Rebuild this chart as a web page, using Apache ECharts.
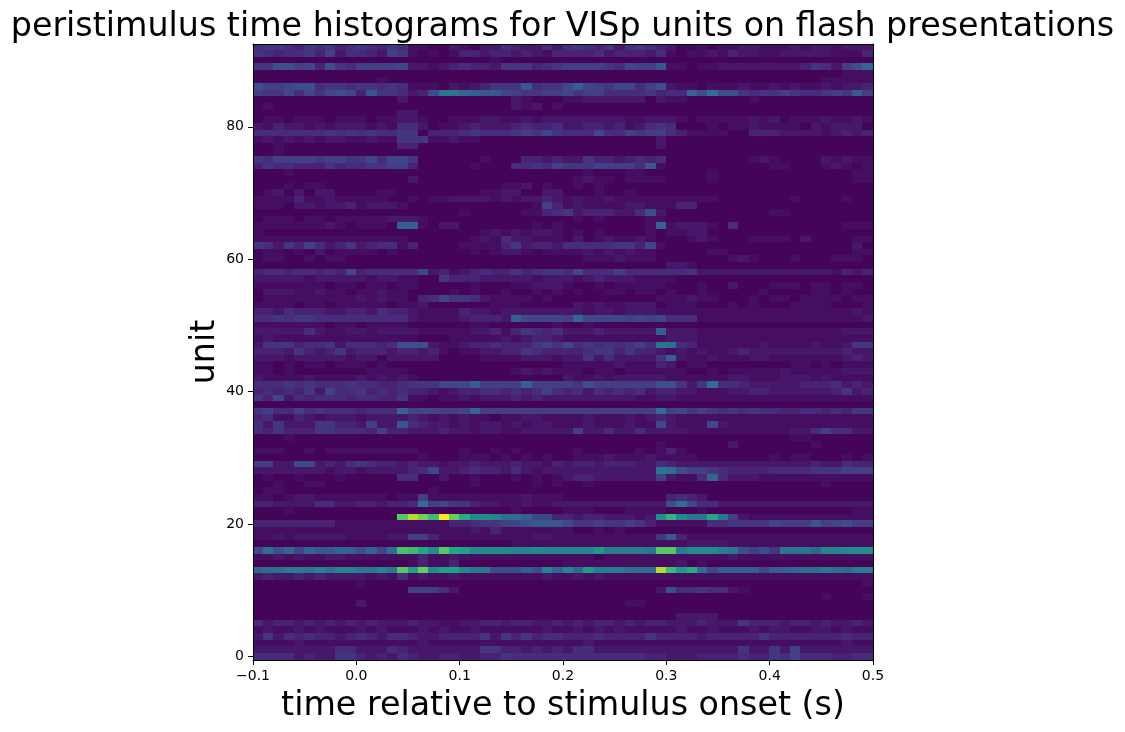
<!DOCTYPE html>
<html>
<head>
<meta charset="utf-8">
<script src="https://cdn.jsdelivr.net/npm/echarts@6/dist/echarts.min.js"></script>
<style>
html,body{margin:0;padding:0;background:#ffffff;}
#chart{width:1125px;height:732px;}
</style>
</head>
<body>
<div id="chart"></div>
<script>
// ---- DATA ----
// start of each 10 ms time bin (s)
const timeBinStarts = [
  -0.10,-0.09,-0.08,-0.07,-0.06,-0.05,-0.04,-0.03,-0.02,-0.01,
   0.00, 0.01, 0.02, 0.03, 0.04, 0.05, 0.06, 0.07, 0.08, 0.09,
   0.10, 0.11, 0.12, 0.13, 0.14, 0.15, 0.16, 0.17, 0.18, 0.19,
   0.20, 0.21, 0.22, 0.23, 0.24, 0.25, 0.26, 0.27, 0.28, 0.29,
   0.30, 0.31, 0.32, 0.33, 0.34, 0.35, 0.36, 0.37, 0.38, 0.39,
   0.40, 0.41, 0.42, 0.43, 0.44, 0.45, 0.46, 0.47, 0.48, 0.49
];
const binWidth = 0.01;

// normalised PSTH per unit, one character per bin (base-36 level, 'z' = max)
// listed from the top unit (92) down to unit 0
const unitRows = [
  "5665465645 6546522113 2133543353 5654635654 3112122332 2232332333", // 92
  "6545564735 5437621212 4434434324 4445344435 2122324332 2333332224", // 91
  "1111111111 1111111111 1112111111 1111111111 1111111111 1111111111", // 90
  "6699784965 7777833234 5443666456 777765877a 2212233333 333465379c", // 89
  "1111111111 1111111111 1111111111 1111111111 1111111111 1111111222", // 88
  "1111111111 1121111111 1111111111 1111111111 1111111111 1111122222", // 87
  "9778995665 6656522213 234666a566 8b87688579 3221222322 3232232334", // 86
  "7668586898 4a665349ee cbaa876677 8677555564 55c9d99656 67655676b7", // 85
  "1111111111 1111311111 1111132111 2233333313 2211111121 1111111111", // 84
  "1211111111 1111111111 1111132312 1111111111 1111111111 1111111111", // 83
  "1111111111 1111331111 1111111111 1111111111 1111111111 1111111111", // 82
  "1221222122 2122332112 2233223233 3333332233 3212222232 3122232232", // 81
  "3243323233 3232553122 3433345445 3344342356 5111212232 2221323331", // 80
  "5555555656 5655661444 5655567686 5558557677 5422221144 4333323434", // 79
  "2323232332 2322666223 2211111111 1111111113 1111111111 1111111111", // 78
  "1121111111 1111441111 1111111111 1111111113 1111111111 1111111111", // 77
  "1121111111 1111111111 1111111111 1111111111 1111111111 1111111111", // 76
  "6577776776 6858861111 1121114434 3364434545 1111111123 2111132322", // 75
  "4655444645 5667741111 1211155657 66677775a2 1111111111 2211123212", // 74
  "1112111111 1111111111 1111111111 1121112211 1111211111 1111111122", // 73
  "1111111111 1111131111 1111111111 1232212222 1111211111 1111111122", // 72
  "1112122111 1111111111 1111223121 1212111111 1111111111 1111111111", // 71
  "1231313311 1122111111 1122331133 1112112111 1111111111 1111111111", // 70
  "2222422322 2221121223 3332323343 2322322222 2222211111 1121111211", // 69
  "2221332334 2333211111 1111111274 2322223322 2441111111 1111111111", // 68
  "1111111111 1111111111 2111112245 6344433593 1111111111 2211111111", // 67
  "1222122122 2223332111 1111111111 1212111122 1111111111 1111111111", // 66
  "2222222321 2221bb2133 1111111212 111111112c 2333215111 1111111222", // 65
  "2111111111 1111111111 1123232332 1212111121 2233111111 1111111111", // 64
  "2222222222 2222211111 1232533222 1312322321 1123211122 2213111122", // 63
  "6536475346 3455241111 2222463443 5555566482 1111111111 1111111131", // 62
  "1221213122 2212111111 1212332122 2232323221 1111221111 1111111122", // 61
  "1221121221 1111111111 1111111111 1122232221 1111112321 1121112221", // 60
  "1111111111 1111111111 1111111111 1111111111 3321111111 1111111111", // 59
  "4554554548 4555558342 3454464566 5855575555 5563333333 3333332434", // 58
  "3333323333 3233221164 4433333233 3234333222 2111111111 1111111111", // 57
  "2222222122 1221221111 1211122333 2112122222 1112113111 2221221221", // 56
  "1333223221 2232211112 1211211212 1211221221 2112111112 1111221211", // 55
  "1222222222 3232214586 6532222121 1111111112 2232211121 2212222122", // 54
  "2222122122 2221223111 1112221111 1323223331 2221112121 1122221112", // 53
  "4435444334 4354432222 4332333333 3323323332 2222222222 2222222232", // 52
  "5565665555 5555532222 34443b8888 7c88887878 5552222222 2222222223", // 51
  "2222222122 1222211111 1221111112 1121111111 1111111111 1111111111", // 50
  "3333353223 3233332222 2334246545 333433333b 3332222222 2222222333", // 49
  "2322222222 2222221112 2222323443 2222222222 3332222222 2222222222", // 48
  "3666455635 5545999322 3445444676 856565675e d542222223 2222322366", // 47
  "4443643463 4443443421 2233446544 4456646443 2323223433 3333333433", // 46
  "3332333332 3313333311 1122223332 3363533336 b322322233 2222222343", // 45
  "2212122122 2121111111 1111111111 2222232224 3122111111 1122121222", // 44
  "2212111111 1222211111 1111123232 2212212222 2211212222 2322222333", // 43
  "3222232222 3232321111 1111111111 3223233333 2222223322 2333232222", // 42
  "5556565556 5544566688 8b7777b777 7697777779 9636d55433 3334445343", // 41
  "4545463755 6454544323 4455454575 4535454534 4332223344 3333334634", // 40
  "6483545554 5544622122 3233343433 3333333223 3222222222 2222222222", // 39
  "1111111111 1111111111 1111111111 1111111111 1111111111 1111111111", // 38
  "6755756555 4555c88877 8c77777777 777777777d 7867656565 5445545466", // 37
  "4522432333 2333343232 3221223322 2232223234 3222222222 2222222222", // 36
  "5363336644 3733a54332 3233232332 2232223228 3222832222 2222222222", // 35
  "5464446655 5474433343 3233223333 3733533533 3322222222 2233575533", // 34
  "1112111111 1111111111 1111111111 1111111111 1111111111 1122111111", // 33
  "1111111111 1111111111 1111111111 1111111112 1111113111 1111211111", // 32
  "2221121222 2222221111 2112121111 1211111212 4211111111 1111111111", // 31
  "1111111111 1111112111 2221212121 1222322232 2221111111 2122111212", // 30
  "7733883435 6544343323 3433343324 3443444335 4333333333 3333433544", // 29
  "3333333233 2333345833 4544353233 333333333e d977654444 5555666777", // 28
  "1211211121 1111551131 1211121212 3443333337 3225c53332 2222222222", // 27
  "1121122111 1111111111 1211111212 1121111111 1111111111 1111121111", // 26
  "1221111111 1111111211 1111111111 1111111111 1111111111 1111111111", // 25
  "2212332222 2221227222 2222223222 1111111111 4543111111 1111111111", // 24
  "4433335533 443445d786 6433223223 3333333333 9d85533333 3333333333", // 23
  "1112111111 1111111111 1111121111 2221112222 1112111111 1111111122", // 22
  "1111111111 1111qvsozr mhhgddb884 434433323h nheele7322 2222222222", // 21
  "4444444422 2222222224 4566789aaa 8667667642 2222556666 8777a78977", // 20
  "2222222222 2222222222 2324222222 2112121111 1111111111 1111111111", // 19
  "2232333332 2223377422 2222222332 2222222226 a422222222 2222222222", // 18
  "1111111111 1111111111 1111122222 2222222222 2233332222 2222222222", // 17
  "8d9c8caacb 9c8dpolhql khhhhgghgg gggjffffeq qfhhhfe979 6eeecgghhh", // 16
  "2232322332 2222224223 2222222222 2221222222 2222223222 2222222222", // 15
  "1111111111 1111124224 1111111111 2222222222 2312111111 1111111111", // 14
  "cddffegegg eegeqkrhkk gee999b9gc gcjfffdddv ojmd8bbbb8 bbcddfdcff", // 13
  "3433434333 3232523223 2222222232 2323222222 2222222222 2222222222", // 12
  "1111111111 2111111111 1111111111 1111111111 1111111111 1111111112", // 11
  "1111111111 1111177753 1111111111 1111111113 9556553211 1111111111", // 10
  "1111111111 1111111111 1111111111 1111111111 1111111111 1111121112", // 9
  "1111111111 3111111111 1111111111 1111112211 1111111111 1111111111", // 8
  "1111111111 1111111111 1111111111 1111111111 1111111111 1111111111", // 7
  "1111111111 1111111111 1111111111 1111111111 1333311111 1111111111", // 6
  "5344343434 3433343322 3344344334 3434434344 3334333644 4344343343", // 5
  "2322323222 3232223232 2322222232 2323232222 2322322232 3322332322", // 4
  "3635454434 5435543344 4463646455 4445444464 4443444446 4444444544", // 3
  "2222322222 2222223222 2222222222 2232222222 2222222222 2222222322", // 2
  "3333333355 3335433333 3366443434 3553333333 3333333633 6373333333", // 1
  "5555343366 4343543344 3344655555 5555555544 3334444544 6575554455"  // 0
];
// level scale: level '1' is the near-black floor, 'z' is the maximum
const levelFloor = 0.7;
const levelMax = 35;

const xTicks = [-0.1, 0.0, 0.1, 0.2, 0.3, 0.4, 0.5];
const yTicks = [0, 20, 40, 60, 80];

const titleText = 'peristimulus time histograms for VISp units on flash presentations';
const xLabel = 'time relative to stimulus onset (s)';
const yLabel = 'unit';

const viridis = ['#440154','#482475','#414487','#355f8d','#2a788e','#21918c',
                 '#22a884','#44bf70','#7ad151','#bddf26','#fde725'];

// ---- build cells ----
const cells = [];
unitRows.forEach(function (row, i) {
  const unit = unitRows.length - 1 - i;
  const s = row.replace(/\s+/g, '');
  for (let b = 0; b < timeBinStarts.length; b++) {
    const ch = s.charAt(b) || '0';
    const lv = parseInt(ch, 36);
    const v = Math.max(0, lv - levelFloor) / (levelMax - levelFloor);
    cells.push([timeBinStarts[b], timeBinStarts[b] + binWidth, unit, v]);
  }
});

const FONT = 'DejaVu Sans';
function fmtX(v) {
  if (Math.abs(v) < 1e-9) return '0.0';
  return v.toFixed(1).replace('-', '\u2212');
}

const chart = echarts.init(document.getElementById('chart'), null, {renderer: 'canvas'});
chart.setOption({
  animation: false,
  backgroundColor: '#ffffff',
  title: {
    text: titleText,
    left: 'center',
    top: 6,
    textStyle: {fontFamily: FONT, fontSize: 33.3, fontWeight: 'normal', color: '#000'}
  },
  grid: {left: 253, top: 44, width: 620, height: 616, containLabel: false},
  graphic: [{
    type: 'text',
    x: 205,
    y: 352,
    rotation: Math.PI / 2,
    z: 20,
    style: {
      text: yLabel,
      fontFamily: FONT,
      fontSize: 33.3,
      fill: '#000',
      align: 'center',
      verticalAlign: 'middle'
    }
  }],
  visualMap: {
    show: false,
    type: 'continuous',
    min: 0,
    max: 1,
    dimension: 3,
    seriesIndex: 0,
    inRange: {color: viridis}
  },
  xAxis: [{
    type: 'value',
    min: xTicks[0],
    max: xTicks[xTicks.length - 1],
    interval: 0.1,
    z: 10,
    axisLine: {show: true, onZero: false, lineStyle: {color: '#000', width: 1}},
    axisTick: {show: true, length: 5, lineStyle: {color: '#000', width: 1}},
    axisLabel: {color: '#000', fontSize: 14, fontFamily: FONT, margin: 9, formatter: fmtX},
    splitLine: {show: false},
    name: xLabel,
    nameLocation: 'middle',
    nameGap: 30,
    nameTextStyle: {fontFamily: FONT, fontSize: 33.3, color: '#000'}
  }, {
    type: 'value',
    position: 'top',
    min: xTicks[0],
    max: xTicks[xTicks.length - 1],
    z: 10,
    axisLine: {show: true, onZero: false, lineStyle: {color: '#000', width: 1}},
    axisTick: {show: false},
    axisLabel: {show: false},
    splitLine: {show: false}
  }],
  yAxis: [{
    type: 'value',
    min: -0.5,
    max: 92.5,
    z: 10,
    axisLine: {show: true, onZero: false, lineStyle: {color: '#000', width: 1}},
    axisTick: {show: true, length: 5, customValues: yTicks, lineStyle: {color: '#000', width: 1}},
    axisLabel: {color: '#000', fontSize: 14, fontFamily: FONT, margin: 9, customValues: yTicks},
    splitLine: {show: false}
  }, {
    type: 'value',
    position: 'right',
    min: -0.5,
    max: 92.5,
    z: 10,
    axisLine: {show: true, onZero: false, lineStyle: {color: '#000', width: 1}},
    axisTick: {show: false},
    axisLabel: {show: false},
    splitLine: {show: false}
  }],
  series: [{
    type: 'custom',
    xAxisIndex: 0,
    yAxisIndex: 0,
    clip: true,
    progressive: 0,
    z: 2,
    encode: {x: [0, 1], y: 2},
    data: cells,
    renderItem: function (params, api) {
      const p1 = api.coord([api.value(0), api.value(2) + 0.5]);
      const p2 = api.coord([api.value(1), api.value(2) - 0.5]);
      const x = Math.floor(p1[0]);
      const y = Math.floor(p1[1]);
      const w = Math.ceil(p2[0]) - x;
      const h = Math.ceil(p2[1]) - y;
      return {
        type: 'rect',
        shape: {x: x, y: y, width: w, height: h},
        style: {fill: api.visual('color'), stroke: null}
      };
    }
  }]
});
</script>
</body>
</html>
